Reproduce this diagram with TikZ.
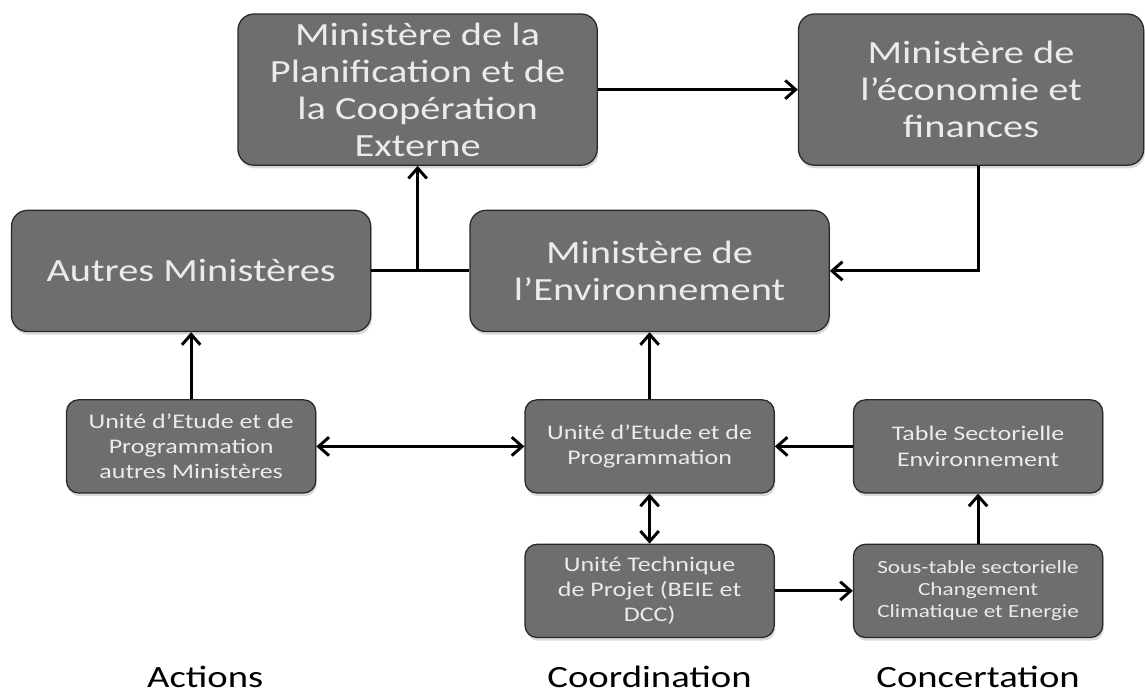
\documentclass[tikz,border=0pt]{standalone}
\usepackage{fontspec}
\setmainfont{Carlito}[FakeStretch=1.25]
\usetikzlibrary{arrows.meta, positioning, shadows}
\definecolor{boxgray}{RGB}{110,110,110}
\definecolor{boxline}{RGB}{40,40,40}

\begin{document}
\begin{tikzpicture}[
		bigbox/.style={draw=boxline, fill=boxgray, text=white!92!black, line width=0.9pt, rounded corners=4mm, minimum width=8.98cm, minimum height=3.03cm, inner sep=2pt, align=center, font=\fontsize{23}{26.3}\selectfont, drop shadow={shadow xshift=0.3mm, shadow yshift=-0.8mm, opacity=0.3}},
		smallbox/.style={draw=boxline, fill=boxgray, text=white!92!black, line width=0.9pt, rounded corners=3mm, minimum width=6.23cm, minimum height=2.33cm, inner sep=2pt, align=center, font=\fontsize{14.8}{18}\selectfont, drop shadow={shadow xshift=0.3mm, shadow yshift=-0.8mm, opacity=0.3}},
		colname/.style={font=\fontsize{22}{26}\selectfont},
		edge/.style={-{Straight Barb[length=2.6mm,width=4.6mm]}, line width=2.1pt},
		biedge/.style={{Straight Barb[length=2.6mm,width=4.6mm]}-{Straight Barb[length=2.6mm,width=4.6mm]}, line width=2.1pt},
		node distance=1.25cm and 1.95cm
		]
		\useasboundingbox (0,0) rectangle (28.625,-17.45);
		
		% Ministères
		\node[bigbox, minimum height=3.78cm] (plan) at (10.44,-2.24) {Ministère de la\\Planification et de\\la Coopération\\Externe};
		\node[bigbox, minimum width=8.63cm, minimum height=3.78cm, right=5cm of plan] (eco) {Ministère de\\l’économie et\\finances};
		
		% Unités et tables
		\node[smallbox] (uep) at (16.24,-11.16) {Unité d’Etude et de\\Programmation};
		\node[smallbox, below=of uep] (utp) {Unité Technique\\de Projet (BEIE et\\DCC)};
		\node[smallbox, right=of uep] (tse) {Table Sectorielle\\Environnement};
		\node[smallbox, below=of tse, font=\fontsize{13.2}{15.8}\selectfont] (stse) {Sous-table sectorielle\\Changement\\Climatique et Energie};
		\node[smallbox, left=5.2cm of uep] (uepa) {Unité d’Etude et de\\Programmation\\autres Ministères};
		\node[bigbox, above=1.675cm of uep] (env) {Ministère de\\l’Environnement};
		\node[bigbox, above=1.675cm of uepa] (autres) {Autres Ministères};
		
		% Colonnes
		\node[colname] (act) at (5.13,-16.93) {Actions};
		\node[colname] (coord) at (act -| utp) {Coordination};
		\node[colname] (conc) at (act -| stse) {Concertation};
		
		% Liens
		\coordinate (jn) at (autres.east -| plan.south);
		\draw[edge] (plan) -- (eco);
		\draw[line width=2.1pt] (autres) -- (env);
		\draw[edge] (jn) -- (plan);
		\draw[edge] ([xshift=1.75mm]eco.south) |- (env.east);
		\draw[edge] (uepa) -- (autres);
		\draw[edge] (uep) -- (env);
		\draw[biedge] (uepa) -- (uep);
		\draw[edge] (tse) -- (uep);
		\draw[biedge] (uep) -- (utp);
		\draw[edge] (utp) -- (stse);
		\draw[edge] (stse) -- (tse);
		
	\end{tikzpicture}
\end{document}
